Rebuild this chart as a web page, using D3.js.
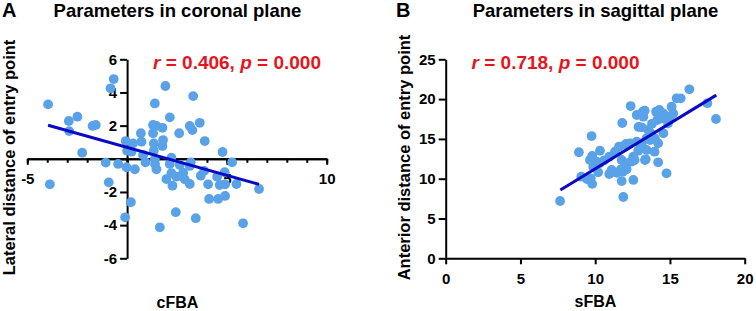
<!DOCTYPE html>
<html>
<head>
<meta charset="utf-8">
<script src="https://cdn.jsdelivr.net/npm/d3@7"></script>
<style>
  body { margin: 0; background: #fff; }
  svg { display: block; font-family: "Liberation Sans", Arial, sans-serif; font-weight: bold; }
</style>
</head>
<body>
<div id="chart"></div>
<script>
/* two scatter panels with fit lines */

const width = 756, height = 311;

// panel A - coronal plane (cFBA vs lateral distance)
const cFBA = [-3.96, -2.92, -2.9, -2.49, -2.25, -1.73, -1.57, -0.83, -0.67, -0.07, 0.3, 0, 0.22,
  0.69, 0.72, 0.8, 1.3, 1.39, 1.47, 1.3, 1.34, 1.34, 1.77, 1.8, 1.77, 1.92, 2.14, 2.22, 2.61,
  3.31, 3.14, 3.27, 3.64, 3.89, 4.78,
  -3.87, -1.07, -0.92, -0.45, -0.03, 0.39, 0.19, -0.1, 0.92, 1.4, 1.47, 1.64, 1.97, 2.14, 2.22,
  2.27, 2.47, 2.44, 2.64, 2.81, 2.89, 3.14, 3.19, 3.14, 3.44, 3.69, 3.86, 4.06, 4.11, 4.51, 4.56,
  4.64, 4.89, 4.91, 4.91, 5.26, 5.48, 5.81, 6.61, 1.39];
const latDist = [3.28, 2.28, 1.67, 2.54, 0.37, 1.98, 2.04, 4.25, 4.81, 1.07, 0.93, 0.49, 0.43,
  1.54, 1.03, 0.23, 2.04, 3.34, 1.98, 1.54, 0.93, 0.49, 1.87, 1.13, 0.77, 4.39, 2.5, 0.07, 1.54,
  3.78, 1.98, 1.73, 2.17, 1.07, 0.41,
  -1.54, -0.23, -1.42, -0.31, -0.51, -0.63, -2.62, -3.53, -0.21, -0.31, -0.63, -4.13, -1.22, -0.31, -0.87,
  -1.62, -1.08, -3.22, -0.37, -0.84, -1.24, -1.52, -0.21, -0.43, -3.58, -1.02, -0.73, -1.54, -2.42, -1.08, -2.42,
  -1.58, -0.81, -1.54, -2.24, -0.21, -1.52, -3.89, -1.82, -0.03];
const fitA = [[-3.96, 2.02], [6.61, -1.54]];

// panel B - sagittal plane (sFBA vs anterior distance)
const sFBA = [7.65, 8.91, 9.07, 9.45, 9.7, 9.8, 9.76, 9.8, 9.65, 10.1, 10.3, 9.87, 10.2, 10.32,
  10.94, 11.32, 11.59, 12.06, 11.1, 11.43, 11.72, 11.77, 12.06, 12.1, 11.84, 11.77, 11.88, 11.81,
  12.37, 12.78, 13.18, 13.22, 14.07, 14.29, 14.56, 14.45, 14.15, 14.99, 15.11, 15.22, 15.45, 15.72,
  16.3, 17.5, 18.08, 13.11, 13.55, 13.71, 14.56, 13.99, 14.21, 13.66, 12.78, 12.33, 12.0, 13.11,
  13.44, 12.88, 12.55, 13.33, 14.21, 14.77, 12.55, 14.87, 13.42, 13.31, 10.94, 12.64, 12.4,
  13.38, 13.97, 12.9, 13.8, 10.6];
const antDist = [7.2, 13.32, 10.25, 9.95, 10.05, 9.35, 15.36, 12.85, 12.35, 12.14, 11.95, 11.5, 10.8, 13.52,
  12.76, 13.39, 14.02, 14.36, 11.09, 10.75, 11.18, 12.35, 11.93, 11.18, 10.88, 9.7, 7.7, 17.0,
  19.13, 18.0, 18.42, 17.79, 18.42, 18.63, 18.2, 17.59, 17.37, 17.79, 19.05, 18.2, 20.1, 20.1,
  21.23, 19.47, 17.5, 16.46, 16.12, 15.7, 15.7, 15.07, 14.45, 14.86, 14.65, 14.45, 14.23, 14.23,
  13.61, 13.52, 12.76, 12.35, 12.06, 10.68, 9.84, 16.96, 15.07, 18.54, 10.59, 12.35, 12.14,
  12.44, 13.39, 16.5, 16.9, 12.3];
const fitB = [[7.67, 8.58], [18.1, 20.5]];

const dotColor = "#5aa2e8", lineColor = "#0a0ac4", red = "#e8141b";

const svg = d3.select("#chart")
  .append("svg")
  .attr("width", width)
  .attr("height", height);

// scales
let xA = d3.scaleLinear().domain([-5, 10]).range([27.3, 326.7]);
let yA = d3.scaleLinear().domain([-6, 6]).range([258.3, 59.3]);
let xB = d3.scaleLinear().domain([0, 20]).range([445.7, 744.7]);
let yB = d3.scaleLinear().domain([0, 25]).range([258.3, 59.3]);

function styleAxis(g) {
  g.select(".domain").attr("stroke-width", 2);
  g.selectAll(".tick line").attr("stroke-width", 2);
  g.selectAll(".tick text")
    .attr("font-family", "Liberation Sans, Arial, sans-serif")
    .attr("font-weight", "bold")
    .attr("font-size", 15)
    .attr("fill", "#000");
}

// ---- panel A axes
svg.append("g")                                   // minor ticks every 1
  .attr("transform", `translate(0,${yA(0)})`)
  .call(d3.axisBottom(xA).tickValues(d3.range(-5, 11)).tickSize(4).tickSizeOuter(0).tickFormat(""))
  .call(styleAxis);
svg.append("g")
  .attr("transform", `translate(0,${yA(0)})`)
  .call(d3.axisBottom(xA).tickValues([-5, 0, 5, 10]).tickSize(6).tickSizeOuter(0).tickPadding(9)
    .tickFormat(d => d === 0 ? "" : d))
  .call(styleAxis);
svg.append("g")
  .attr("transform", `translate(${xA(0)},0)`)
  .call(d3.axisLeft(yA).tickValues([-6, -4, -2, 0, 2, 4, 6]).tickSize(7).tickSizeOuter(0).tickPadding(3)
    .tickFormat(d => d === 0 ? "" : d))
  .call(styleAxis);

// ---- panel B axes
svg.append("g")
  .attr("transform", `translate(0,${yB(0)})`)
  .call(d3.axisBottom(xB).tickValues([0, 5, 10, 15, 20]).tickSize(6).tickSizeOuter(0).tickPadding(9))
  .call(styleAxis);
svg.append("g")
  .attr("transform", `translate(${xB(0)},0)`)
  .call(d3.axisLeft(yB).tickValues([0, 5, 10, 15, 20, 25]).tickSize(7).tickSizeOuter(0).tickPadding(3))
  .call(styleAxis);

// ---- fit lines
let lineA = d3.line().x(d => xA(d[0])).y(d => yA(d[1]));
let lineB = d3.line().x(d => xB(d[0])).y(d => yB(d[1]));

// ---- dots
svg.append("g").selectAll("circle")
  .data(d3.range(cFBA.length))
  .join("circle")
  .attr("cx", i => xA(cFBA[i]))
  .attr("cy", i => yA(latDist[i]))
  .attr("r", 4.9)
  .attr("fill", dotColor);

svg.append("g").selectAll("circle")
  .data(d3.range(sFBA.length))
  .join("circle")
  .attr("cx", i => xB(sFBA[i]))
  .attr("cy", i => yB(antDist[i]))
  .attr("r", 4.9)
  .attr("fill", dotColor);

svg.append("path").datum(fitA).attr("d", lineA)
  .attr("fill", "none").attr("stroke", lineColor).attr("stroke-width", 3);
svg.append("path").datum(fitB).attr("d", lineB)
  .attr("fill", "none").attr("stroke", lineColor).attr("stroke-width", 3);

// ---- titles and labels
function label(x, y, txt, size, anchor) {
  return svg.append("text")
    .attr("x", x).attr("y", y)
    .attr("text-anchor", anchor || "middle")
    .attr("font-size", size)
    .text(txt);
}

label(2, 17, "A", 20, "start");
label(396, 17, "B", 20, "start");
label(177.5, 17, "Parameters in coronal plane", 18.5);
label(595.5, 17, "Parameters in sagittal plane", 18.5);
label(177.5, 308, "cFBA", 16);
label(595.5, 307, "sFBA", 16);

svg.append("text")                                 // y-label A
  .attr("transform", "translate(15,157.5) rotate(-90)")
  .attr("text-anchor", "middle")
  .attr("font-size", 16.5)
  .text("Lateral distance of entry point");
svg.append("text")                                 // y-label B
  .attr("transform", "translate(410,157.5) rotate(-90)")
  .attr("text-anchor", "middle")
  .attr("font-size", 16.5)
  .text("Anterior distance of entry point");

// correlation annotations
function stat(x, y, rVal, pVal) {
  let t = svg.append("text")
    .attr("x", x).attr("y", y)
    .attr("text-anchor", "middle")
    .attr("font-size", 19)
    .attr("fill", red);
  t.append("tspan").attr("font-style", "italic").text("r");
  t.append("tspan").text(` = ${rVal}, `);
  t.append("tspan").attr("font-style", "italic").text("p");
  t.append("tspan").text(` = ${pVal}`);
}
stat(237, 69, "0.406", "0.000");
stat(555.5, 69, "0.718", "0.000");
</script>
</body>
</html>
